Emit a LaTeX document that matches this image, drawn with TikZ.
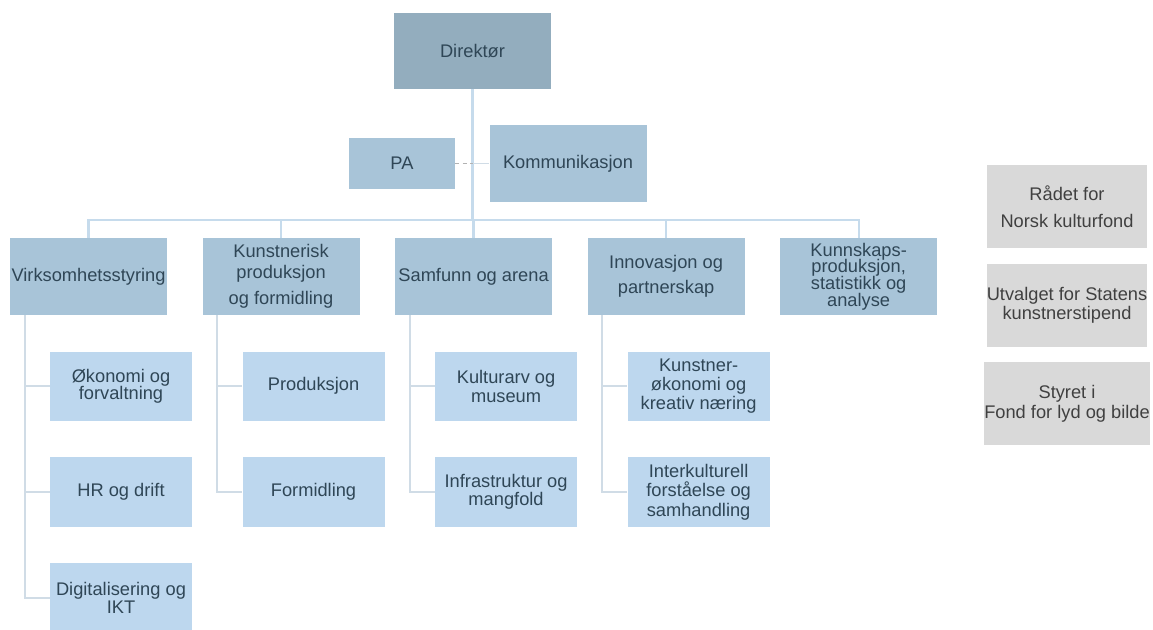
\documentclass[tikz,border=0pt]{standalone}
\usepackage{fontspec}
\setmainfont{Liberation Sans}
\usepackage{tikz}
\usetikzlibrary{positioning}
\definecolor{topfill}{HTML}{93ADBE}
\definecolor{unitfill}{HTML}{A8C4D8}
\definecolor{subfill}{HTML}{BDD7EE}
\definecolor{boardfill}{HTML}{D9D9D9}
\definecolor{linkline}{HTML}{C6DBEC}
\definecolor{subline}{HTML}{D0DCE6}
\definecolor{boxtext}{HTML}{2F4656}
\tikzset{
    %Define style for boxes
    topbox/.style={
           rectangle,
           fill=topfill,
           text=boxtext,
           inner sep=0pt,
           minimum width=117.75pt,
           minimum height=57pt,
           align=center,
           font=\fontsize{13.7pt}{13.5pt}\selectfont},
    unit/.style={
           topbox,
           fill=unitfill,
           minimum height=57.75pt},
    pabox/.style={
           unit,
           minimum width=79.5pt,
           minimum height=38.25pt},
    subunit/.style={
           topbox,
           fill=subfill,
           minimum width=106.5pt,
           minimum height=52pt},
    board/.style={
           topbox,
           fill=boardfill,
           text=black!75,
           minimum width=120pt,
           minimum height=62.25pt},
    % Define line styles
    link/.style={
           draw=linkline,
           line width=1.7pt},
    sublink/.style={
           draw=subline,
           line width=1.3pt},
    palink/.style={
           draw=gray!60,
           line width=1.2pt,
           dash pattern=on 3pt off 2.5pt}
}

\begin{document}
\begin{tikzpicture}[x=0.75pt,y=-0.75pt,node distance=27pt]
\useasboundingbox (0,0) rectangle (1153,630);

 %leadership
\node[topbox] (dir) at (472.5,51) {Direktør};
\node[pabox] (pa) at (402,163.5) {PA};
\node[unit] (komm) at (568,163.5) {Kommunikasjon};

 %departments
\node[unit] (virk) at (88.5,276.5) {Virksomhetsstyring};
\node[unit, right=26.25pt of virk] (kunst) {Kunstnerisk\\[2pt]produksjon\\[6pt]og formidling};
\node[unit, right=26.25pt of kunst] (samfunn) {Samfunn og arena};
\node[unit, right=26.25pt of samfunn] (innov) {Innovasjon og\\[5pt]partnerskap};
\node[unit, right=26.25pt of innov] (kunnskap) {Kunnskaps-\\[-1pt]produksjon,\\[-1pt]statistikk og\\[-1pt]analyse};

 %sections
\node[subunit, below=of virk.south west, anchor=north west, xshift=30pt] (oko) {Økonomi og\\[-1pt]forvaltning};
\node[subunit, below=of oko] (hr) {HR og drift};
\node[subunit, below=of hr] (ikt) {Digitalisering og\\IKT};
\node[subunit, below=of kunst.south west, anchor=north west, xshift=30pt] (prod) {Produksjon};
\node[subunit, below=of prod] (form) {Formidling};
\node[subunit, below=of samfunn.south west, anchor=north west, xshift=30pt] (arv) {Kulturarv og\\[1pt]museum};
\node[subunit, below=of arv] (infra) {Infrastruktur og\\mangfold};
\node[subunit, below=of innov.south west, anchor=north west, xshift=30pt] (okon) {Kunstner-\\[1pt]økonomi og\\[1pt]kreativ næring};
\node[subunit, below=of okon] (inter) {Interkulturell\\[1pt]forståelse og\\[1pt]samhandling};

 %boards
\node[board] (raad) at (1067,206.5) {Rådet for\\[7pt]Norsk kulturfond};
\node[board, below=11.25pt of raad] (utvalg) {Utvalget for Statens\\[1pt]kunstnerstipend};
\node[board, below=11.25pt of utvalg] (styret) {Styret i\\[1.5pt]Fond for lyd og bilde};

 %connectors
\coordinate (bus) at (472.5,220);
\draw[link] (dir.south) -- (bus);
\draw[link] (virk.north) -- (virk.north |- bus) -- (kunnskap.north |- bus) -- (kunnskap.north);
\foreach \n in {kunst,samfunn,innov}
    \draw[link] (\n.north) -- (\n.north |- bus);
\draw[palink] (pa.east) -- (dir.south |- pa.east);
\draw[sublink] (dir.south |- pa.east) -- (komm.west);
\foreach \u/\s in {virk/oko,virk/hr,virk/ikt,kunst/prod,kunst/form,samfunn/arv,samfunn/infra,innov/okon,innov/inter}
    \draw[sublink] ([xshift=11.25pt]\u.south west) |- (\s.west);

\end{tikzpicture}
\end{document}
